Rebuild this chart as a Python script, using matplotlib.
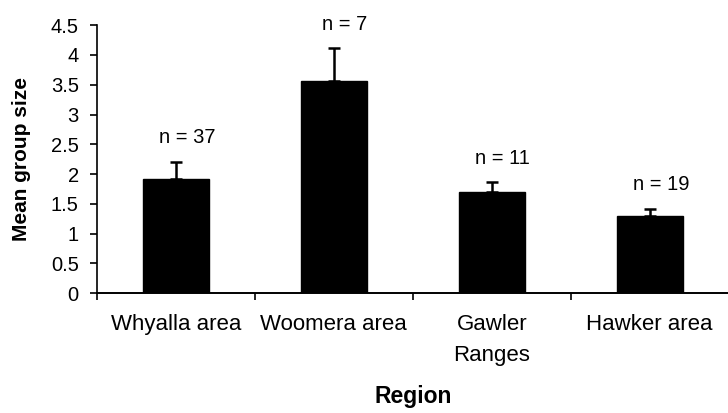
import matplotlib
matplotlib.use("Agg")
import matplotlib.pyplot as plt
import numpy as np

regions = ["Whyalla area", "Woomera area", "Gawler\nRanges", "Hawker area"]
means = [1.92, 3.56, 1.70, 1.29]
upper_err = [0.29, 0.55, 0.16, 0.12]
n_labels = ["n = 37", "n = 7", "n = 11", "n = 19"]
yticks = [0, 0.5, 1, 1.5, 2, 2.5, 3, 3.5, 4, 4.5]
ytick_labels = ["0", "0.5", "1", "1.5", "2", "2.5", "3", "3.5", "4", "4.5"]

plt.rcParams['font.family'] = ['Liberation Sans', 'DejaVu Sans']

fig = plt.figure(figsize=(7.28, 4.13), dpi=100)
ax = fig.add_axes([0.133, 0.29, 0.868, 0.649])

x = np.arange(len(regions))
ax.bar(x, means, width=0.42, color='black', edgecolor='black')
ax.errorbar(x, means, yerr=[np.zeros(len(means)), upper_err], fmt='none',
            ecolor='black', elinewidth=1.8, capsize=4.5, capthick=1.8)

for xi, m, e, lab in zip(x, means, upper_err, n_labels):
    ax.text(xi + 0.07, m + e + 0.41, lab, ha='center', va='center', fontsize=14.5)

ax.set_xlim(-0.5, 3.5)
ax.set_ylim(0, 4.5)
ax.set_yticks(yticks)
ax.set_yticklabels(ytick_labels, fontsize=14.5)

ax.set_xticks(x)
ax.set_xticklabels(regions, fontsize=16, linespacing=1.6)
ax.tick_params(axis='x', length=0, pad=15)
ax.set_xticks(np.arange(-0.5, 3.6, 1.0), minor=True)
ax.tick_params(axis='x', which='minor', length=5, width=1.2, direction='out')
ax.tick_params(axis='y', length=5, width=1.2, direction='out', pad=8)

for s in ['top', 'right']:
    ax.spines[s].set_visible(False)
ax.spines['left'].set_linewidth(1.2)
ax.spines['bottom'].set_linewidth(1.4)

ax.set_ylabel("Mean group size", fontsize=15, fontweight='bold', labelpad=14)
ax.set_xlabel("Region", fontsize=16.5, fontweight='bold', labelpad=14)

fig.savefig("out.png", dpi=100)
